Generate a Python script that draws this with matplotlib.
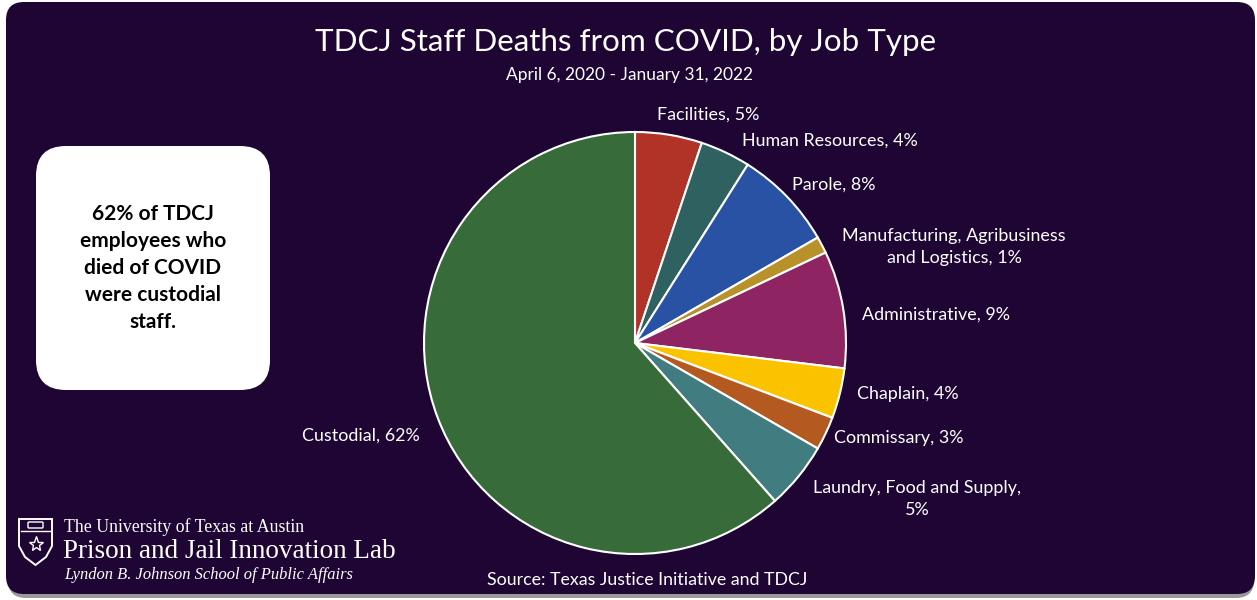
import matplotlib
matplotlib.use("Agg")
import matplotlib.pyplot as plt
from matplotlib.patches import FancyBboxPatch, Polygon

# ---- data (counts) ----
job_types = ["Facilities", "Human Resources", "Parole",
             "Manufacturing, Agribusiness\nand Logistics", "Administrative",
             "Chaplain", "Commissary", "Laundry, Food and Supply,\n", "Custodial"]
deaths = [4, 3, 6, 1, 7, 3, 2, 4, 48]
colors = ["#b13226", "#2f6161", "#2952a4", "#b8912a", "#8e2461",
          "#fbc200", "#b45a21", "#417c80", "#386b3a"]

title = "TDCJ Staff Deaths from COVID, by Job Type"
subtitle = "April 6, 2020 - January 31, 2022"
source = "Source: Texas Justice Initiative and TDCJ"
callout = "62% of TDCJ\nemployees who\ndied of COVID\nwere custodial\nstaff."

BG = "#1e0533"
W, H = 1257, 600
FONT = "Lato"

fig = plt.figure(figsize=(W / 100, H / 100), dpi=100)
fig.patch.set_facecolor("white")

# overlay axes in pixel coordinates
ov = fig.add_axes([0, 0, 1, 1])
ov.set_xlim(0, W)
ov.set_ylim(H, 0)
ov.axis("off")

# shadow + panel
ov.add_patch(FancyBboxPatch((8, 6), 1246, 592, boxstyle="round,pad=0,rounding_size=18",
                            fc="#9a9a9a", ec="none", zorder=0))
ov.add_patch(FancyBboxPatch((6, 2), 1249, 592, boxstyle="round,pad=0,rounding_size=18",
                            fc=BG, ec="none", zorder=1))

# white callout box
ov.add_patch(FancyBboxPatch((36, 146), 234, 244, boxstyle="round,pad=0,rounding_size=30",
                            fc="white", ec="none", zorder=2))
ov.text(153, 268, callout, ha="center", va="center", fontsize=15, fontweight="bold",
        family=FONT, color="black", linespacing=1.45, zorder=3)

# titles
ov.text(626, 42, title, ha="center", va="center", fontsize=22.6, family=FONT,
        color="white", zorder=3)
ov.text(629, 75, subtitle, ha="center", va="center", fontsize=12.5, family=FONT,
        color="white", zorder=3)
ov.text(647, 580, source, ha="center", va="center", fontsize=12.8, family=FONT,
        color="white", zorder=3)

# logo text
ov.text(64, 527, "The University of Texas at Austin", ha="left", va="center",
        fontsize=12.8, family="Liberation Serif", color="white", zorder=3)
ov.text(63, 551, "Prison and Jail Innovation Lab", ha="left", va="center",
        fontsize=19.5, family="Liberation Serif", color="white", zorder=3)
ov.text(64, 575, "Lyndon B. Johnson School of Public Affairs", ha="left", va="center",
        fontsize=11.9, family="Liberation Serif", style="italic", color="white", zorder=3)
# simple shield outline
shield = Polygon([(19, 519), (52, 519), (52, 546), (46, 557), (35.5, 565),
                  (25, 557), (19, 546)], closed=True, fc="none", ec="white", lw=1.4, zorder=3)
ov.add_patch(shield)
ov.plot([21, 50], [531, 531], color="white", lw=1.0, zorder=3)
ov.add_patch(FancyBboxPatch((28, 522), 15, 6, boxstyle="round,pad=0,rounding_size=1",
                            fc="none", ec="white", lw=1.0, zorder=3))
ov.plot([35.5], [544], marker="*", ms=11, mfc="none", mec="white", mew=1.0, zorder=3)

# pie axes: centre (635, 343) px, radius 211 px
cx, cy, r = 635, 343, 211
pax = fig.add_axes([(cx - r) / W, (H - cy - r) / H, 2 * r / W, 2 * r / H])
pax.pie(deaths, colors=colors, startangle=90, counterclock=False, radius=1,
        wedgeprops=dict(edgecolor="white", linewidth=1.5))
pax.set_xlim(-1, 1)
pax.set_ylim(-1, 1)
pax.set_aspect("auto")
pax.axis("off")

# labels
total = sum(deaths)
pcts = [round(100 * d / total) for d in deaths]
label_pos = [  # (x, y, ha)
    (657, 115, "left"),
    (742, 141, "left"),
    (792, 185, "left"),
    (954, 247, "center"),
    (862, 315, "left"),
    (857, 394, "left"),
    (834, 438, "left"),
    (917, 499, "center"),
    (420, 436, "right"),
]
for name, p, (x, y, ha) in zip(job_types, pcts, label_pos):
    txt = f"{name}{p}%" if name.endswith("\n") else f"{name}, {p}%"
    ov.text(x, y, txt, ha=ha, va="center", fontsize=12.9, family=FONT, color="white",
            linespacing=1.45, multialignment="center", zorder=3)

fig.savefig("out.png", dpi=100, facecolor="white")
